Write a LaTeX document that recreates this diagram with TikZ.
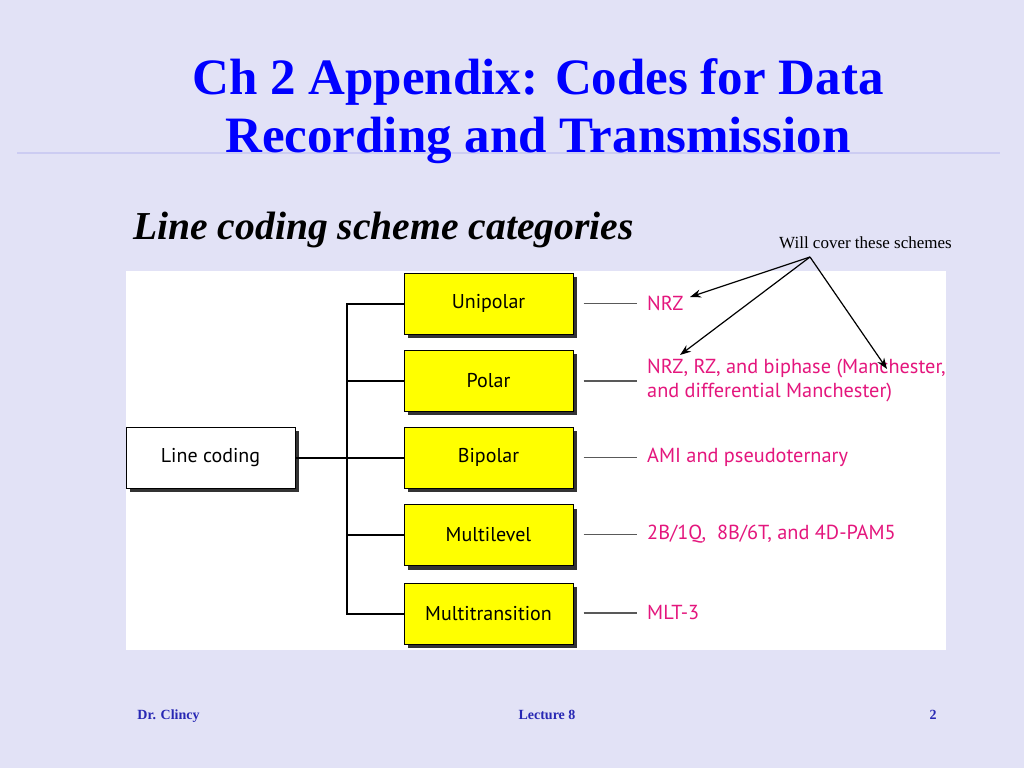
\documentclass[tikz,border=0pt]{standalone}
\usepackage{fontspec}
\setmainfont{Liberation Serif}
\newfontfamily\diagfont{PT Sans}
\usetikzlibrary{shadows,arrows.meta}
\definecolor{bgc}{RGB}{226,226,246}
\definecolor{rulec}{RGB}{204,204,242}
\definecolor{titleblue}{RGB}{0,0,255}
\definecolor{footblue}{RGB}{40,40,180}
\definecolor{pinkc}{RGB}{228,22,125}
\definecolor{yellowc}{RGB}{255,255,0}
\tikzset{
  catbox/.style={draw=black, line width=1pt, fill=yellowc, minimum width=169pt, minimum height=61pt,
    font=\diagfont\fontsize{20}{24}\selectfont, inner sep=0pt,
    general shadow={fill=black!80, shadow xshift=4pt, shadow yshift=-4pt}},
  rootbox/.style={catbox, fill=white},
  tree/.style={line width=2pt, black},
  lead/.style={line width=1.2pt, black!65},
  scheme/.style={font=\diagfont\fontsize{20.3}{24}\selectfont, text=pinkc, anchor=west, inner sep=0pt, align=left},
  callout/.style={line width=1.2pt, black, -{Stealth[length=11pt,width=8pt]}},
  foot/.style={font=\bfseries\fontsize{14}{16}\selectfont, text=footblue, anchor=base, inner sep=0pt}
}
\begin{document}
\begin{tikzpicture}[x=1pt,y=-1pt]
\useasboundingbox (0,0) rectangle (1024,768);
\fill[bgc] (0,0) rectangle (1024,768);
\coordinate (rl) at (17,153);
\coordinate (rr) at (1000,153);
\draw[rulec, line width=1.6pt] (rl) -- (rr);
\node[font=\bfseries\fontsize{51}{58}\selectfont, text=titleblue, anchor=base, inner sep=0pt] (t1) at (538,94) {Ch 2 Appendix: Codes for Data};
\node[font=\bfseries\fontsize{51}{58}\selectfont, text=titleblue, anchor=base, inner sep=0pt] (t2) at (538,152) {Recording and Transmission};
\node[font=\bfseries\itshape\fontsize{39.6}{46}\selectfont, anchor=base west, inner sep=0pt] (sub) at (133,239) {Line coding scheme categories};
\node[font=\fontsize{17}{20}\selectfont, anchor=base west, inner sep=0pt] (will) at (779,248) {Will cover these schemes};
\fill[white] (126,271) rectangle (946,650);
% boxes
\node[rootbox] (lc) at (210.5,457.5) {Line coding};
\node[catbox] (uni) at (488.5,303.5) {Unipolar};
\node[catbox] (pol) at (488.5,380.5) {Polar};
\node[catbox] (bip) at (488.5,457.5) {Bipolar};
\node[catbox] (mul) at (488.5,535) {Multilevel};
\node[catbox] (mtr) at (488.5,613.5) {Multitransition};
% tree
\coordinate (jt) at (347,303.5);
\coordinate (jb) at (347,613.5);
\draw[tree] (uni.west) -- (jt) -- (jb) -- (mtr.west);
\draw[tree] (lc.east) -- (bip.west);
\draw[tree] (pol.west) -- (pol.west -| jt);
\draw[tree] (mul.west) -- (mul.west -| jt);
% schemes
\node[scheme] (s1) at (647,303.5) {NRZ};
\node[scheme] (s2) at (647,381) {NRZ, RZ, and biphase (Manchester,\\and differential Manchester)};
\node[scheme] (s3) at (647,457.5) {AMI and pseudoternary};
\node[scheme] (s4) at (647,534.5) {2B/1Q,\ \ 8B/6T, and 4D-PAM5};
\node[scheme] (s5) at (647,613) {MLT-3};
\foreach \b/\s in {uni/s1,pol/s2,bip/s3,mul/s4,mtr/s5}{
  \draw[lead] ([xshift=10pt]\b.east |- \s.west) -- ([xshift=-10pt]\s.west);
}
% callout arrows
\coordinate (src) at (810,257);
\coordinate (a1) at (690,297);
\coordinate (a2) at (680,355);
\coordinate (a3) at (887,369);
\draw[callout] (src) -- (a1);
\draw[callout] (src) -- (a2);
\draw[callout] (src) -- (a3);
% footer
\node[foot] (f1) at (168.5,719) {Dr. Clincy};
\node[foot] (f2) at (547,719) {Lecture 8};
\node[foot] (f3) at (933,719) {2};
\end{tikzpicture}
\end{document}
